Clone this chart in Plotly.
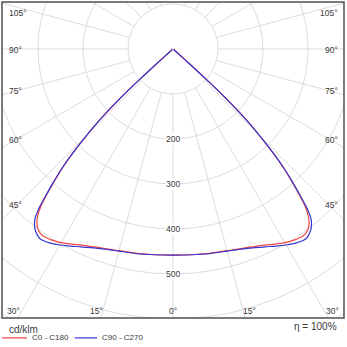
import numpy as np
import plotly.graph_objects as go

# ---- data (cd/klm) ----
gamma_deg = [0, 5, 10, 15, 17.5, 20, 22.5, 25, 27.5, 30, 32.5, 35, 36, 37.5, 39, 40,
             41, 42, 43, 44, 45, 46, 47, 47.5, 48, 48.5, 49, 50, 60, 70, 80, 90]
I_C0_C180 = [458, 459, 461, 464, 467, 470, 475, 481, 489, 497, 503, 506, 504, 496, 478, 457,
             425, 392, 358, 316, 270, 223, 158, 108, 48, 12, 4, 3, 3, 3, 3, 2]
I_C90_C270 = [458, 459, 462, 465, 468, 472, 478, 485, 494, 503, 511, 515, 512, 504, 488, 465,
              430, 395, 360, 318, 272, 225, 160, 110, 50, 12, 4, 3, 3, 3, 3, 2]
ring_values = [100, 200, 300, 400, 500, 600, 700]
ring_labels = [200, 300, 400, 500]
spoke_angles = list(range(0, 360, 15))
angle_labels_left = ["105°", "90°", "75°", "60°", "45°"]
angle_labels_bottom = ["30°", "15°", "0°", "15°", "30°"]
series_names = ["C0 - C180", "C90 - C270"]
unit_label = "cd/klm"
eta_label = "η = 100%"

RED = "#f04545"
BLUE = "#3535d0"
GRID = "#dcdcdc"
TXT = "#3a3a3a"
FONT = "Liberation Sans, Arial, sans-serif"


def curve_xy(gam, vals):
    g = np.radians(np.array(gam, dtype=float))
    v = np.array(vals, dtype=float)
    xl = -v * np.sin(g)
    yl = -v * np.cos(g)
    xr = v * np.sin(g)
    x = np.concatenate([xl[::-1], xr[1:]])
    y = np.concatenate([yl[::-1], yl[1:]])
    return x, y


fig = go.Figure()

# grid circles
t = np.linspace(0, 2 * np.pi, 721)
cx, cy = [], []
for r in ring_values:
    cx += list(r * np.cos(t)) + [None]
    cy += list(r * np.sin(t)) + [None]
fig.add_trace(go.Scatter(x=cx, y=cy, mode="lines", line=dict(color=GRID, width=1),
                         hoverinfo="skip", showlegend=False))
# spokes
sx, sy = [], []
for a in spoke_angles:
    ar = np.radians(a)
    sx += [100 * np.sin(ar), 900 * np.sin(ar), None]
    sy += [-100 * np.cos(ar), -900 * np.cos(ar), None]
fig.add_trace(go.Scatter(x=sx, y=sy, mode="lines", line=dict(color=GRID, width=1),
                         hoverinfo="skip", showlegend=False))

for vals, col, name in [(I_C0_C180, RED, series_names[0]), (I_C90_C270, BLUE, series_names[1])]:
    x, y = curve_xy(gamma_deg, vals)
    fig.add_trace(go.Scatter(x=x, y=y, mode="lines",
                             line=dict(color=col, width=1.2, shape="spline", smoothing=0.6),
                             name=name, showlegend=False))

ann = []
for r in ring_labels:
    ann.append(dict(x=0, y=-r, xref="x", yref="y", text=str(r), showarrow=False,
                    font=dict(size=8.5, color=TXT, family=FONT), bgcolor="white",
                    borderpad=0))

left_y = [0.965, 0.848, 0.718, 0.563, 0.358]
for lab, yy in zip(angle_labels_left, left_y):
    ann.append(dict(x=0.014, y=yy, xref="paper", yref="paper", text=lab, showarrow=False,
                    xanchor="left", yanchor="middle", font=dict(size=8.5, color=TXT, family=FONT)))
    ann.append(dict(x=0.988, y=yy, xref="paper", yref="paper", text=lab, showarrow=False,
                    xanchor="right", yanchor="middle", font=dict(size=8.5, color=TXT, family=FONT)))
bottom_x = [0.035, 0.275, 0.5, 0.725, 0.966]
for lab, xx in zip(angle_labels_bottom, bottom_x):
    ann.append(dict(x=xx, y=0.022, xref="paper", yref="paper", text=lab, showarrow=False,
                    xanchor="center", yanchor="middle", font=dict(size=8.5, color=TXT, family=FONT)))

ann.append(dict(x=0.014, y=-0.035, xref="paper", yref="paper", text=unit_label, showarrow=False,
                xanchor="left", yanchor="middle", font=dict(size=10, color=TXT, family=FONT)))
ann.append(dict(x=0.985, y=-0.028, xref="paper", yref="paper", text=eta_label, showarrow=False,
                xanchor="right", yanchor="middle", font=dict(size=10, color=TXT, family=FONT)))
ann.append(dict(x=0.082, y=-0.063, xref="paper", yref="paper", text=series_names[0], showarrow=False,
                xanchor="left", yanchor="middle", font=dict(size=8, color=TXT, family=FONT)))
ann.append(dict(x=0.287, y=-0.063, xref="paper", yref="paper", text=series_names[1], showarrow=False,
                xanchor="left", yanchor="middle", font=dict(size=8, color=TXT, family=FONT)))

shapes = [
    dict(type="rect", xref="paper", yref="paper", x0=0, y0=0, x1=1, y1=1,
         line=dict(color="#505050", width=1.5)),
    dict(type="line", xref="paper", yref="paper", x0=0.0, x1=0.073, y0=-0.063, y1=-0.063,
         line=dict(color=RED, width=1.2)),
    dict(type="line", xref="paper", yref="paper", x0=0.213, x1=0.278, y0=-0.063, y1=-0.063,
         line=dict(color=BLUE, width=1.2)),
]

fig.update_layout(
    width=347, height=347,
    margin=dict(l=2, r=3, t=2, b=29),
    paper_bgcolor="white", plot_bgcolor="white",
    xaxis=dict(range=[-380, 380], visible=False, fixedrange=True),
    yaxis=dict(range=[-597.8, 104.4], visible=False, fixedrange=True),
    annotations=ann, shapes=shapes, showlegend=False,
)

fig.write_html("out.html")
